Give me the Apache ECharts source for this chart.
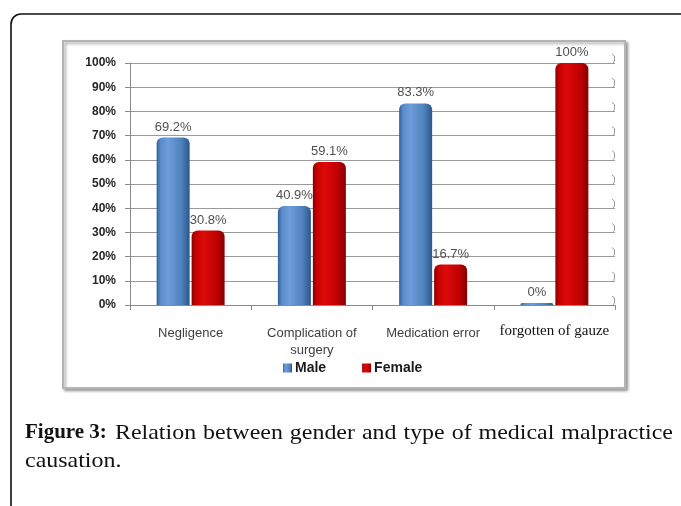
<!DOCTYPE html>
<html><head><meta charset="utf-8">
<script src="https://cdn.jsdelivr.net/npm/echarts@6/dist/echarts.min.js"></script>
<style>html,body{margin:0;padding:0;background:#fff}#c{width:681px;height:506px}</style>
</head><body><div id="c"></div>
<script>
const categories = ['Negligence', 'Complication of\nsurgery', 'Medication error', 'forgotten of gauze'];
const maleValues = [69.2, 40.9, 83.3, 0];
const femaleValues = [30.8, 59.1, 16.7, 100];
const yTicks = [0, 10, 20, 30, 40, 50, 60, 70, 80, 90, 100];
const seriesNames = ['Male', 'Female'];
const captionBold = 'Figure 3:';
const captionLine1 = 'Relation between gender and type of medical malpractice';
const captionLine2 = 'causation.';

const gridLeft = 130, gridRight = 66, gridTop = 63, gridBottom = 201;

const blueGrad = new echarts.graphic.LinearGradient(0, 0, 1, 0, [
  {offset: 0, color: '#2f5f99'}, {offset: 0.12, color: '#5b8dcc'},
  {offset: 0.35, color: '#6d9ddb'}, {offset: 0.75, color: '#4f81bd'},
  {offset: 1, color: '#2c5688'}]);
const redGrad = new echarts.graphic.LinearGradient(0, 0, 1, 0, [
  {offset: 0, color: '#8a0000'}, {offset: 0.12, color: '#c80000'},
  {offset: 0.35, color: '#dc0a0a'}, {offset: 0.75, color: '#c00000'},
  {offset: 1, color: '#850000'}]);

const chart = echarts.init(document.getElementById('c'), null, {renderer: 'canvas'});
const sans = '"Liberation Sans", Arial, sans-serif';
const serif = '"Liberation Serif", "Times New Roman", serif';

chart.setOption({
  animation: false,
  backgroundColor: '#fff',
  grid: {left: gridLeft, right: gridRight, top: gridTop, bottom: gridBottom},
  legend: {
    left: 278, top: 356, itemWidth: 9, itemHeight: 9, itemGap: 36, icon: 'rect',
    data: seriesNames,
    textStyle: {fontFamily: sans, fontWeight: 'bold', fontSize: 14, color: '#1a1a1a', padding: [0, 0, 0, -2]}
  },
  xAxis: {
    type: 'category', data: categories, offset: 7,
    axisLine: {lineStyle: {color: '#8a8a8a', width: 1}},
    axisTick: {show: true, length: 5, lineStyle: {color: '#8a8a8a'}},
    axisLabel: {
      margin: 13, color: '#404040', fontFamily: sans, fontSize: 13, lineHeight: 17,
      interval: 0,
      formatter: function (v) { return v === 'forgotten of gauze' ? '{s|' + v + '}' : v; },
      rich: {s: {fontFamily: serif, fontSize: 15, color: '#111', padding: [0, 0, 4, 0]}}
    }
  },
  yAxis: {
    type: 'value', min: 0, max: 100, interval: 10,
    axisLine: {show: true, lineStyle: {color: '#8a8a8a'}},
    axisTick: {show: true, length: 5, lineStyle: {color: '#8a8a8a'}},
    splitLine: {lineStyle: {color: '#9a9a9a', width: 1}},
    axisLabel: {margin: 14, formatter: '{value}%', color: '#262626', fontFamily: sans, fontWeight: 'bold', fontSize: 12}
  },
  series: [
    {name: seriesNames[0], type: 'bar', data: maleValues, barWidth: 33, barGap: '6%', barMinHeight: 2,
      itemStyle: {color: blueGrad, borderRadius: [6, 6, 0, 0]},
      label: {show: true, position: 'top', distance: 4, formatter: '{c}%', color: '#505050', fontFamily: sans, fontSize: 13}},
    {name: seriesNames[1], type: 'bar', data: femaleValues, barWidth: 33,
      itemStyle: {color: redGrad, borderRadius: [6, 6, 0, 0]},
      label: {show: true, position: 'top', distance: 4, formatter: '{c}%', color: '#505050', fontFamily: sans, fontSize: 13}}
  ]
});

// decorations
const g = [];
g.push({type: 'rect', z: -10, shape: {x: 11, y: 14, width: 800, height: 700, r: 10},
  style: {fill: 'none', stroke: '#111', lineWidth: 1.6}});
g.push({type: 'rect', z: -5, shape: {x: 63, y: 41, width: 562, height: 347},
  style: {fill: '#fff', stroke: '#b4b4b4', lineWidth: 2, shadowBlur: 3, shadowOffsetX: 2, shadowOffsetY: 2, shadowColor: 'rgba(0,0,0,0.35)'}});
const rightX = 681 - gridRight;
yTicks.forEach(function (t) {
  const y = chart.convertToPixel({yAxisIndex: 0}, t);
  g.push({type: 'polyline', z: 5, shape: {points: [[rightX - 2, y], [rightX - 0.5, y - 2], [rightX - 0.5, y - 7], [rightX - 3, y - 9]]},
    style: {fill: 'none', stroke: '#9a9a9a', lineWidth: 1}});
});

// caption (justified, slightly widened serif)
const capSize = 21, widen = 1.14;
const ctx = document.createElement('canvas').getContext('2d');
const boldFont = 'bold ' + capSize + 'px ' + serif;
const normFont = capSize + 'px ' + serif;
g.push({type: 'text', x: 25, y: 433, style: {text: captionBold, font: boldFont, fill: '#111', verticalAlign: 'middle'}});
ctx.font = normFont;
const words = captionLine1.split(' ');
const startX = 115, endX = 673;
let total = 0;
const widths = words.map(function (w) { const m = ctx.measureText(w).width * widen; total += m; return m; });
const gap = (endX - startX - total) / (words.length - 1);
let cx = startX;
words.forEach(function (w, i) {
  g.push({type: 'text', x: cx, y: 433, scaleX: widen, style: {text: w, font: normFont, fill: '#111', verticalAlign: 'middle'}});
  cx += widths[i] + gap;
});
g.push({type: 'text', x: 25, y: 461, scaleX: widen, style: {text: captionLine2, font: normFont, fill: '#111', verticalAlign: 'middle'}});
chart.setOption({graphic: g});
</script></body></html>
